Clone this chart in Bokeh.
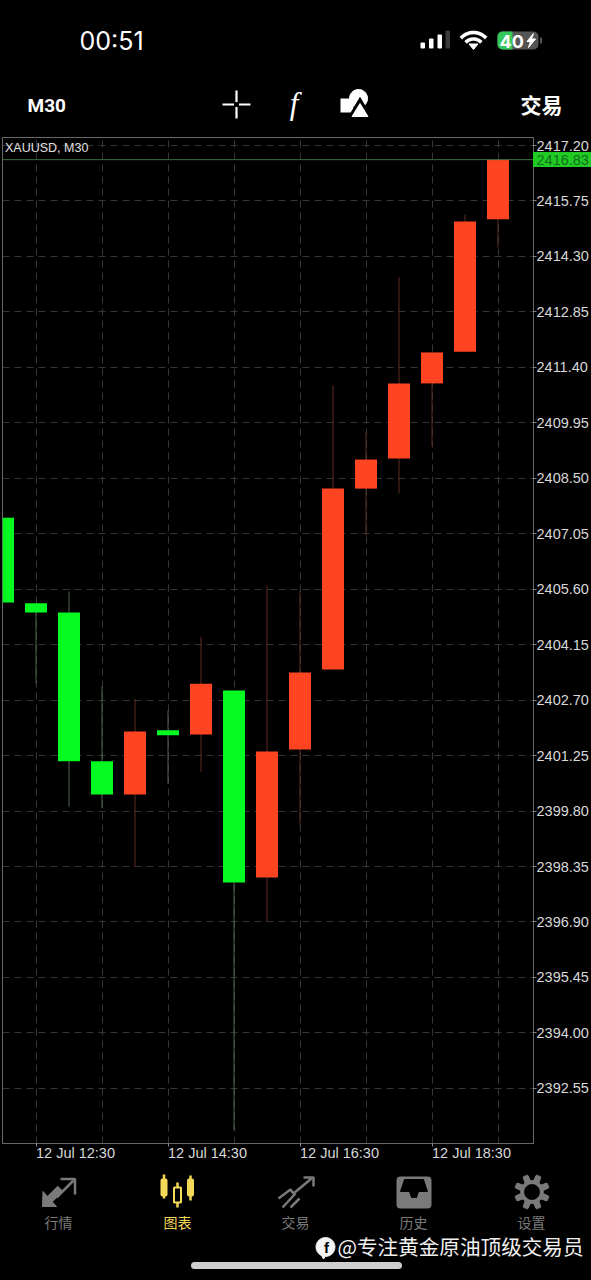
import numpy as np
from bokeh.core.properties import value
from bokeh.embed import file_html
from bokeh.layouts import column
from bokeh.models import ColumnDataSource, FixedTicker, Label, LinearAxis, NumeralTickFormatter, Span
from bokeh.plotting import figure
from bokeh.resources import INLINE

# ---- data ----
symbol = "XAUUSD, M30"
opens = [2407.47, 2405.23, 2404.99, 2401.10, 2400.23, 2401.91, 2401.80, 2402.95,
         2398.06, 2401.41, 2403.50, 2408.23, 2409.02, 2410.98, 2411.81, 2415.27]
closes = [2405.25, 2404.99, 2401.10, 2400.23, 2401.88, 2401.78, 2403.13, 2397.93,
          2401.36, 2403.42, 2408.23, 2408.99, 2410.98, 2411.79, 2415.21, 2416.83]
highs = [2407.47, 2405.23, 2405.54, 2403.06, 2402.74, 2402.43, 2404.36, 2402.95,
         2405.70, 2405.57, 2410.93, 2409.70, 2413.75, 2411.79, 2415.40, 2416.83]
lows = [2405.25, 2403.13, 2399.92, 2399.87, 2398.35, 2400.52, 2400.83, 2391.45,
        2396.89, 2399.42, 2403.50, 2407.00, 2408.10, 2409.33, 2411.81, 2414.53]
price_ticks = [2417.20, 2415.75, 2414.30, 2412.85, 2411.40, 2409.95, 2408.50, 2407.05, 2405.60,
               2404.15, 2402.70, 2401.25, 2399.80, 2398.35, 2396.90, 2395.45, 2394.00, 2392.55]
time_tick_index = [1, 5, 9, 13]
time_tick_labels = ["12 Jul 12:30", "12 Jul 14:30", "12 Jul 16:30", "12 Jul 18:30"]
hour_grid_index = [1, 3, 5, 7, 9, 11, 13, 15]
last_price = 2416.83
tab_names = ["行情", "图表", "交易", "历史", "设置"]
watermark = "@专注黄金原油顶级交易员"

BG = "#000000"
UP = "#ff4422"
DOWN = "#04fa20"
GREY = "#7a7a7a"
GOLD = "#f4d858"
SANS = "Liberation Sans"
CJK = "Noto Sans CJK SC"
BLACK_BG = {"background-color": BG}


def chrome(h, y0, w=591, x0=0, styles=BLACK_BG):
    f = figure(width=w, height=h, x_range=(x0, x0 + w), y_range=(y0 + h, y0), x_axis_type=None,
               y_axis_type=None, toolbar_location=None, output_backend="svg", min_border=0,
               background_fill_color=BG, border_fill_color=BG, outline_line_color=None,
               frame_align=False, styles=styles)
    f.xgrid.visible = False
    f.ygrid.visible = False
    return f


def label(f, x, y, s, size, color="#ffffff", font=SANS, style="normal", align="left"):
    f.text([x], [y], text=[s], text_font=value(font), text_font_size=f"{size}px", text_color=color,
           text_font_style=style, text_align=align, text_baseline="middle")


# ---- top chrome ----
top = chrome(130, 0)
label(top, 79, 40, "00:51", 25, font="Inter", style="normal")
top.quad(left=[420, 428.5, 437, 445], right=[424.5, 433, 441.5, 449.5], top=[42, 38, 34, 30],
         bottom=[48, 48, 48, 48], fill_color=["#fff", "#fff", "#fff", "#3a3a3a"], line_color=None,
         border_radius=1)
for r, w in [(17, 3.6), (10.5, 3.6)]:
    a = np.radians(np.linspace(42, 138, 24))
    top.line(473 + r * np.cos(a), 49 - r * np.sin(a), line_color="#fff", line_width=w)
top.patch([473, 468.5, 477.5], [49, 43.5, 43.5], color="#fff")
top.quad(left=[497], right=[538], top=[31], bottom=[49], fill_color="#555555", line_color=None, border_radius=5)
top.quad(left=[497], right=[512], top=[31], bottom=[49], fill_color="#34c759", line_color=None,
         border_radius=(5, 0, 0, 5))
top.quad(left=[539.5], right=[541.5], top=[37], bottom=[43], fill_color="#555555", line_color=None)
label(top, 499, 40.5, "40", 18, font="Inter", style="bold")
top.patch([533, 526.5, 530, 528, 535, 531, 533], [33, 41, 41, 47, 38.5, 38.5, 33], color="#fff")

label(top, 27, 105, "M30", 19, font="Roboto", style="bold")
label(top, 520, 103, "交易", 21, font=CJK, style="bold")
top.segment([222, 238.5, 236, 236], [104, 104, 90, 106.5], [233.5, 250, 236, 236], [104, 104, 101.5, 118],
            line_color="#fff", line_width=2.2)
label(top, 293.5, 103, "f", 31, font="Liberation Serif", style="italic", align="center")
top.quad(left=[340], right=[353], top=[98], bottom=[112], fill_color="#fff", line_color=None)
top.patch(358 + 9 * np.cos(np.linspace(0, 6.28, 40)), 98 + 9 * np.sin(np.linspace(0, 6.28, 40)), color="#fff")
top.patch([359.5, 346, 373], [97, 120, 120], color=BG)
top.patch([359.5, 351.5, 367.5], [103, 116, 116], color="#fff")

# ---- main chart ----
n = len(opens)
idx = list(range(n))
src = ColumnDataSource(dict(
    x=idx, o=opens, c=closes, h=highs, l=lows,
    bar=[UP if c > o else DOWN for o, c in zip(opens, closes)],
    wick=["#5c2c22" if c > o else "#4c664c" for o, c in zip(opens, closes)],
))
per_candle = 33.0
per_price = 38.25
p = figure(width=591, height=1035,
           x_range=(-0.5 / per_candle, 530.5 / per_candle),
           y_range=(2417.20 - (1143 - 145) / per_price, 2417.20 + 8 / per_price),
           y_axis_location="right", toolbar_location=None, output_backend="svg",
           min_border_left=2, min_border_right=58, min_border_top=7, min_border_bottom=22,
           background_fill_color=BG, border_fill_color=BG,
           outline_line_color="#686868", outline_line_width=1, frame_align=False, styles=BLACK_BG)
p.xgrid.ticker = FixedTicker(ticks=hour_grid_index)
p.ygrid.ticker = FixedTicker(ticks=price_ticks)
for g in (p.xgrid, p.ygrid):
    g.grid_line_color = "#363636"
    g.grid_line_dash = "7 5"
    g.grid_line_width = 1
p.segment("x", "h", "x", "l", source=src, line_color="wick", line_width=1)
p.vbar("x", width=22 / per_candle, bottom="o", top="c", source=src, fill_color="bar", line_color=None)
p.add_layout(Span(location=last_price, dimension="width", line_color="#3c7040", line_width=1))

ax = p.yaxis[0]
ax.ticker = FixedTicker(ticks=price_ticks)
ax.formatter = NumeralTickFormatter(format="0.00")
bx = p.xaxis[0]
bx.ticker = FixedTicker(ticks=time_tick_index)
bx.major_label_overrides = {i: "" for i in time_tick_index}
# The labels start at their tick, so a second axis carries them half a label further right.
half_label = 39.5 / per_candle
text_ticks = [round(i + half_label, 3) for i in time_tick_index]
tx = LinearAxis(ticker=FixedTicker(ticks=text_ticks),
                major_label_overrides=dict(zip(text_ticks, time_tick_labels)))
for a in (ax, bx, tx):
    a.axis_line_color = "#686868"
    a.major_tick_line_color = "#8a8a8a"
    a.major_tick_in = 0
    a.major_tick_out = 3
    a.minor_tick_line_color = None
    a.major_label_text_color = "#d8d8d8"
    a.major_label_text_font = SANS
    a.major_label_text_font_size = "14.5px"
    a.major_label_standoff = 0
tx.axis_line_color = None
tx.major_tick_line_color = None
tx.major_tick_out = 0
tx.major_label_standoff = -2
bx.major_label_text_font_size = "1px"
bx.major_label_standoff = 0
p.add_layout(tx, "below")
p.add_layout(Label(x=0.06, y=2417.20 - 2 / per_price, text=symbol, text_color="#e0e0e0",
                   text_font=SANS, text_font_size="12.5px", text_baseline="middle"))

# ---- price tag, placed on the right axis at the last price ----
tag_y = 145 + (price_ticks[0] - last_price) * per_price
tag = chrome(15, 0, w=58, x0=0, styles={"position": "absolute", "left": "533px", "top": f"{tag_y - 7.5:.0f}px",
                                        "background-color": "#20cc24"})
tag.background_fill_color = "#20cc24"
tag.border_fill_color = "#20cc24"
label(tag, 3, 7.5, f"{last_price:.2f}", 14.5, color="#136d1c")

# ---- bottom chrome ----
bot = chrome(115, 1165)
# market arrows
bot.patch([42, 42.5, 56], [1206, 1191, 1206], color=GREY)
bot.line([47, 60], [1201, 1188], line_color=GREY, line_width=8)
bot.line([56, 73], [1197, 1180], line_color=GREY, line_width=2.5)
bot.line([60, 74.5, 74.5], [1178.5, 1178.5, 1194], line_color=GREY, line_width=2.5)
# candles
bot.segment([163.5, 177, 190], [1174, 1182, 1175], [163.5, 177, 190], [1198, 1207, 1200], line_color=GOLD, line_width=2.5)
bot.quad(left=[160, 186.5], right=[167, 193.5], top=[1178, 1178], bottom=[1196, 1196], fill_color=GOLD, line_color=None, border_radius=2)
bot.quad(left=[173.5], right=[180.5], top=[1187], bottom=[1202], fill_color=BG, line_color=GOLD, line_width=2)
# trade arrow
bot.line([278, 290, 293, 311], [1198, 1189, 1193, 1178], line_color=GREY, line_width=2.5)
bot.line([303, 313, 313], [1177, 1177, 1186], line_color=GREY, line_width=2.5)
bot.segment([282, 290], [1207, 1207], [295, 299], [1193, 1198], line_color=GREY, line_width=2.5)
# history tray
bot.quad(left=[396], right=[431], top=[1176], bottom=[1208], fill_color=GREY, line_color=None, border_radius=4)
bot.patch([404, 423, 427, 418, 416, 411, 409, 400], [1179, 1179, 1191, 1191, 1197, 1197, 1191, 1191], color=BG)
# gear
ang = np.linspace(0, 2 * np.pi, 241)
rad = 14.5 + 3 * np.clip(2.2 * np.cos(8 * (ang + np.pi / 8)), -1, 1)
bot.patch(531.5 + rad * np.cos(ang), 1191.5 + rad * np.sin(ang), color=GREY)
bot.patch(531.5 + 7.5 * np.cos(ang), 1191.5 + 7.5 * np.sin(ang), color=BG)
for name, cx in zip(tab_names, [58, 177, 295, 413, 531]):
    label(bot, cx, 1221, name, 14, color=GOLD if name == "图表" else GREY, font=CJK, align="center")
# watermark
bot.patch(325 + 9.5 * np.cos(ang), 1246.5 + 9.5 * np.sin(ang), color="#f4f4f4")
bot.patch([320, 323, 326], [1253, 1258.5, 1254], color="#f4f4f4")
label(bot, 326, 1247, "f", 15, color=BG, font=SANS, style="bold", align="center")
label(bot, 337, 1245, watermark, 20.6, color="#f0f0f0", font=CJK)
bot.line([194, 398], [1265, 1265], line_color="#cfcfcf", line_width=7, line_cap="round")

page = column(top, p, bot, tag, spacing=0, styles={"position": "absolute", "left": "0px", "top": "0px",
                                                   "background-color": BG})
open("out.html", "w").write(file_html(page, INLINE))
